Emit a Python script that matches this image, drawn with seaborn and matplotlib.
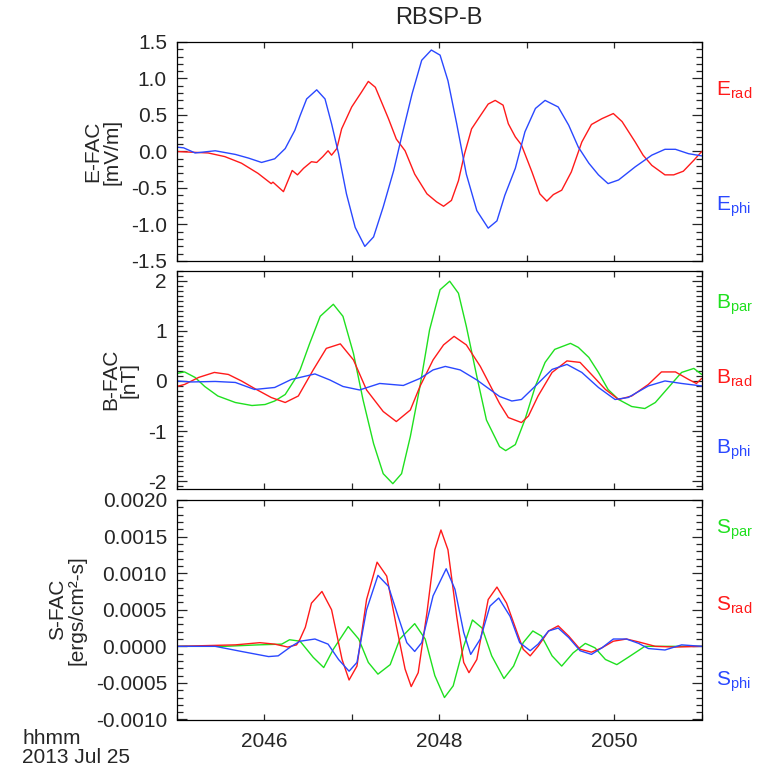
import numpy as np
import pandas as pd
import matplotlib
matplotlib.use("Agg")
import matplotlib.pyplot as plt
from matplotlib.ticker import MultipleLocator, AutoMinorLocator, FormatStrFormatter, FixedLocator, FixedFormatter
import seaborn as sns

# ---------------- data (time in minutes after 20:45 UT) ----------------
TITLE = "RBSP-B"
X_TICK_LABELS = ["2046", "2048", "2050"]
DATE_TEXT = "hhmm\n2013 Jul 25"

# Panel 1: E-FAC [mV/m]
erad_t = [0.0, 0.36, 0.55, 0.74, 0.93, 1.08, 1.10, 1.22, 1.32, 1.38, 1.45, 1.54, 1.60, 1.67, 1.73, 1.77, 1.83,
          1.885, 2.0, 2.11, 2.19, 2.27, 2.34, 2.42, 2.51, 2.61, 2.72, 2.86, 2.97, 3.05, 3.14, 3.22, 3.29, 3.37,
          3.47, 3.56, 3.64, 3.73, 3.79, 3.87, 3.94, 4.06, 4.15, 4.23, 4.305, 4.40, 4.51, 4.63, 4.74, 4.86,
          4.99, 5.09, 5.24, 5.33, 5.43, 5.58, 5.68, 5.79, 5.91, 6.0]
erad_v = [0.0, -0.02, -0.07, -0.16, -0.30, -0.44, -0.42, -0.55, -0.26, -0.32, -0.23, -0.14, -0.15, -0.07, 0.01, -0.05, 0.04,
          0.31, 0.61, 0.81, 0.96, 0.88, 0.68, 0.45, 0.17, 0.01, -0.31, -0.58, -0.69, -0.75, -0.67, -0.40, -0.03, 0.31,
          0.49, 0.65, 0.70, 0.635, 0.38, 0.20, 0.09, -0.28, -0.58, -0.68, -0.59, -0.53, -0.28, 0.13, 0.37, 0.45,
          0.52, 0.41, 0.13, -0.05, -0.19, -0.32, -0.32, -0.27, -0.12, 0.0]
ephi_t = [0.0, 0.08, 0.21, 0.44, 0.67, 0.82, 0.97, 1.12, 1.24, 1.35, 1.41, 1.485, 1.60, 1.695, 1.77, 1.85, 1.94,
          2.04, 2.15, 2.25, 2.36, 2.48, 2.57, 2.69, 2.80, 2.91, 3.01, 3.10, 3.20, 3.31, 3.43, 3.56, 3.66, 3.75,
          3.87, 3.98, 4.10, 4.21, 4.36, 4.48, 4.59, 4.71, 4.82, 4.93, 5.05, 5.24, 5.43, 5.58, 5.70, 5.85, 6.0]
ephi_v = [0.06, 0.05, -0.02, 0.01, -0.04, -0.09, -0.15, -0.10, 0.04, 0.29, 0.49, 0.72, 0.845, 0.72, 0.38, -0.03, -0.58,
          -1.04, -1.30, -1.17, -0.76, -0.26, 0.20, 0.79, 1.25, 1.39, 1.32, 0.97, 0.38, -0.31, -0.81, -1.05, -0.95, -0.60,
          -0.23, 0.27, 0.59, 0.70, 0.61, 0.36, 0.06, -0.16, -0.32, -0.44, -0.39, -0.21, -0.05, 0.03, 0.03, -0.03, -0.06]

# Panel 2: B-FAC [nT]
bpar_t = [0.0, 0.09, 0.21, 0.32, 0.47, 0.67, 0.86, 1.01, 1.12, 1.24, 1.35, 1.41, 1.52, 1.64, 1.79, 1.90, 2.02,
          2.13, 2.25, 2.36, 2.47, 2.57, 2.67, 2.78, 2.89, 3.01, 3.12, 3.22, 3.31, 3.43, 3.54, 3.69, 3.76, 3.87,
          3.98, 4.10, 4.21, 4.32, 4.50, 4.59, 4.71, 4.82, 4.93, 5.05, 5.20, 5.35, 5.47, 5.62, 5.77, 5.91, 6.0]
bpar_v = [0.15, 0.18, 0.07, -0.11, -0.30, -0.43, -0.49, -0.47, -0.40, -0.27, 0.03, 0.22, 0.75, 1.29, 1.53, 1.29, 0.55,
          -0.38, -1.25, -1.85, -2.05, -1.85, -1.11, -0.11, 1.02, 1.82, 1.99, 1.75, 1.09, 0.09, -0.78, -1.31, -1.39, -1.27,
          -0.77, -0.10, 0.37, 0.63, 0.75, 0.67, 0.47, 0.17, -0.17, -0.37, -0.51, -0.55, -0.43, -0.13, 0.17, 0.25, 0.13]
brad_t = [0.0, 0.09, 0.25, 0.43, 0.59, 0.74, 0.89, 1.08, 1.24, 1.39, 1.56, 1.71, 1.87, 2.02, 2.17, 2.36, 2.51,
          2.67, 2.78, 2.93, 3.05, 3.17, 3.31, 3.47, 3.69, 3.79, 3.94, 4.02, 4.13, 4.29, 4.46, 4.61, 4.74, 4.90,
          5.05, 5.20, 5.39, 5.54, 5.70, 5.85, 5.94, 6.0]
brad_v = [-0.11, -0.07, 0.07, 0.17, 0.13, 0.0, -0.15, -0.33, -0.43, -0.30, 0.22, 0.65, 0.74, 0.42, -0.18, -0.61, -0.81,
          -0.58, -0.11, 0.42, 0.72, 0.89, 0.72, 0.29, -0.45, -0.73, -0.83, -0.70, -0.30, 0.17, 0.40, 0.37, 0.13, -0.17,
          -0.37, -0.30, -0.07, 0.18, 0.18, 0.03, -0.05, 0.05]
bphi_t = [0.0, 0.17, 0.44, 0.67, 0.89, 1.12, 1.31, 1.58, 1.75, 1.90, 2.09, 2.32, 2.59, 2.78, 2.93, 3.07, 3.24,
          3.43, 3.69, 3.83, 3.94, 4.10, 4.29, 4.46, 4.63, 4.82, 5.01, 5.16, 5.39, 5.58, 5.77, 6.0]
bphi_v = [0.0, -0.02, -0.01, -0.03, -0.17, -0.13, 0.03, 0.14, 0.02, -0.11, -0.18, -0.05, -0.09, 0.05, 0.22, 0.29, 0.22,
          0.02, -0.31, -0.40, -0.37, -0.10, 0.23, 0.33, 0.17, -0.13, -0.37, -0.33, -0.10, 0.0, -0.05, -0.10]

# Panel 3: S-FAC [ergs/cm^2-s], values in units of 1e-4
spar_t = [0.0, 0.55, 0.93, 1.20, 1.29, 1.41, 1.56, 1.68, 1.79, 1.96, 2.08, 2.19, 2.30, 2.44, 2.55, 2.72, 2.84,
          2.95, 3.06, 3.16, 3.28, 3.38, 3.49, 3.60, 3.74, 3.85, 3.96, 4.07, 4.17, 4.29, 4.40, 4.53, 4.67, 4.78,
          4.90, 5.03, 5.16, 5.35, 5.62, 6.0]
spar_v = [0.0, 0.0, 0.2, 0.3, 0.9, 0.7, -1.5, -2.9, -0.4, 2.7, 1.0, -2.2, -3.8, -2.5, 1.0, 3.1, 1.0,
          -4.0, -7.0, -5.4, 0.0, 3.6, 2.5, -1.3, -4.4, -2.7, 0.5, 2.1, 1.4, -1.3, -2.7, -0.9, 0.4, -0.2,
          -1.8, -2.5, -1.5, 0.0, 0.0, 0.0]
srad_t = [0.0, 0.67, 0.95, 1.12, 1.27, 1.37, 1.41, 1.47, 1.54, 1.66, 1.77, 1.89, 1.97, 2.06, 2.17, 2.29, 2.40,
          2.51, 2.61, 2.68, 2.76, 2.86, 2.95, 3.02, 3.10, 3.20, 3.28, 3.34, 3.43, 3.56, 3.66, 3.77, 3.89, 3.96,
          4.04, 4.13, 4.25, 4.36, 4.48, 4.61, 4.74, 4.86, 4.99, 5.14, 5.28, 5.47, 5.70, 6.0]
srad_v = [0.0, 0.2, 0.5, 0.3, -0.1, 0.2, 1.0, 2.6, 5.9, 7.5, 5.0, -1.8, -4.6, -2.7, 6.4, 11.5, 9.6,
          2.8, -3.1, -5.5, -3.6, 4.6, 13.2, 15.9, 13.2, 4.1, -2.2, -3.6, -1.8, 6.4, 8.1, 5.9, 1.9, -0.4,
          -1.3, 0.0, 2.1, 2.8, 1.4, -0.4, -0.8, -0.2, 0.7, 1.0, 0.6, 0.0, -0.1, 0.0]
sphi_t = [0.0, 0.44, 0.74, 1.05, 1.16, 1.31, 1.41, 1.58, 1.73, 1.85, 1.97, 2.06, 2.17, 2.30, 2.42, 2.53, 2.63,
          2.72, 2.80, 2.93, 3.08, 3.18, 3.28, 3.36, 3.47, 3.58, 3.68, 3.81, 3.92, 4.04, 4.13, 4.25, 4.36, 4.48,
          4.61, 4.74, 4.86, 4.99, 5.14, 5.28, 5.39, 5.58, 5.77, 6.0]
sphi_v = [0.0, 0.0, -0.7, -1.4, -1.3, 0.0, 0.7, 1.0, 0.3, -1.8, -3.4, -2.2, 5.0, 9.7, 8.2, 4.1, 0.5,
          -0.7, 0.5, 6.9, 10.6, 7.8, 1.9, -1.1, 1.0, 5.5, 6.6, 4.1, 0.5, -0.6, 0.3, 2.1, 2.5, 1.2,
          -0.6, -1.1, -0.2, 1.0, 1.0, 0.4, -0.3, -0.5, 0.2, 0.0]
S_UNIT = 1e-4

RED, GREEN, BLUE = "#ff1a1a", "#1fe01f", "#2a48ff"

# ---------------- style ----------------
sns.set_style("ticks")
plt.rcParams["font.family"] = ["Liberation Sans", "DejaVu Sans"]
plt.rcParams["mathtext.fontset"] = "custom"
plt.rcParams["mathtext.rm"] = "Liberation Sans"
plt.rcParams["mathtext.it"] = "Liberation Sans"
plt.rcParams["axes.unicode_minus"] = False

FS = 15
fig = plt.figure(figsize=(7.76, 7.70), dpi=100)

W = 776.0
H = 770.0
left, right = 176.7 / W, 701.7 / W
boxes = [(42, 261), (270.7, 488.7), (500, 719.5)]
axes = []
for top, bot in boxes:
    axes.append(fig.add_axes([left, 1 - bot / H, right - left, (bot - top) / H]))

panels = [
    dict(series=[(erad_t, erad_v, RED), (ephi_t, ephi_v, BLUE)], scale=1.0,
         ylim=(-1.5, 1.5), major=0.5, minor=5, fmt="%.1f", ylabel="E-FAC\n[mV/m]",
         labels=[("E", "rad", RED, 0.78), ("E", "phi", BLUE, 0.247)]),
    dict(series=[(bpar_t, bpar_v, GREEN), (brad_t, brad_v, RED), (bphi_t, bphi_v, BLUE)], scale=1.0,
         ylim=(-2.15, 2.2), major=1.0, minor=10, fmt="%d", ylabel="B-FAC\n[nT]",
         labels=[("B", "par", GREEN, 0.843), ("B", "rad", RED, 0.508), ("B", "phi", BLUE, 0.178)]),
    dict(series=[(spar_t, spar_v, GREEN), (srad_t, srad_v, RED), (sphi_t, sphi_v, BLUE)], scale=S_UNIT,
         ylim=(-0.001, 0.002), major=0.0005, minor=5, fmt="%.4f", ylabel="S-FAC\n[ergs/cm²-s]",
         labels=[("S", "par", GREEN, 0.863), ("S", "rad", RED, 0.52), ("S", "phi", BLUE, 0.171)]),
]

tick_pos = [int(s) - 2045 for s in X_TICK_LABELS]
for i, (ax, p) in enumerate(zip(axes, panels)):
    for t, v, c in p["series"]:
        assert len(t) == len(v)
        df = pd.DataFrame({"t": t, "v": np.asarray(v) * p["scale"]})
        sns.lineplot(data=df, x="t", y="v", ax=ax, color=c, lw=1.0, estimator=None, sort=False)
    ax.set_xlim(0, 6)
    ax.set_ylim(*p["ylim"])
    ax.yaxis.set_major_locator(MultipleLocator(p["major"]))
    ax.yaxis.set_minor_locator(AutoMinorLocator(p["minor"]))
    ax.yaxis.set_major_formatter(FormatStrFormatter(p["fmt"]))
    ax.xaxis.set_major_locator(FixedLocator(list(range(0, 7))))
    if i == 2:
        labs = ["" for _ in range(7)]
        for s, pos in zip(X_TICK_LABELS, tick_pos):
            labs[pos] = s
        ax.xaxis.set_major_formatter(FixedFormatter(labs))
    else:
        ax.set_xticklabels([])
    ax.tick_params(axis="both", which="both", direction="in", top=True, right=True, labelsize=FS, width=0.9)
    ax.tick_params(axis="y", which="major", length=7, pad=7)
    ax.tick_params(axis="y", which="minor", length=4)
    ax.tick_params(axis="x", which="major", length=4.5, pad=9)
    ax.set_xlabel("")
    ax.set_ylabel(p["ylabel"], fontsize=FS, labelpad=7, linespacing=1.0)
    for sp in ax.spines.values():
        sp.set_visible(True)
        sp.set_linewidth(0.9)
        sp.set_color("black")
    for base, sub, c, yy in p["labels"]:
        ax.text(1.027, yy, base + r"$_{\mathrm{" + sub + "}}$", transform=ax.transAxes,
                color=c, fontsize=FS, ha="left", va="center")

fig.text(0.5 * (left + right), 1 - 18 / H, TITLE, ha="center", va="center", fontsize=17)
fig.text(22 / W, 1 - 748 / H, DATE_TEXT, ha="left", va="center", fontsize=FS, linespacing=0.95)

fig.savefig("out.png", dpi=100)
